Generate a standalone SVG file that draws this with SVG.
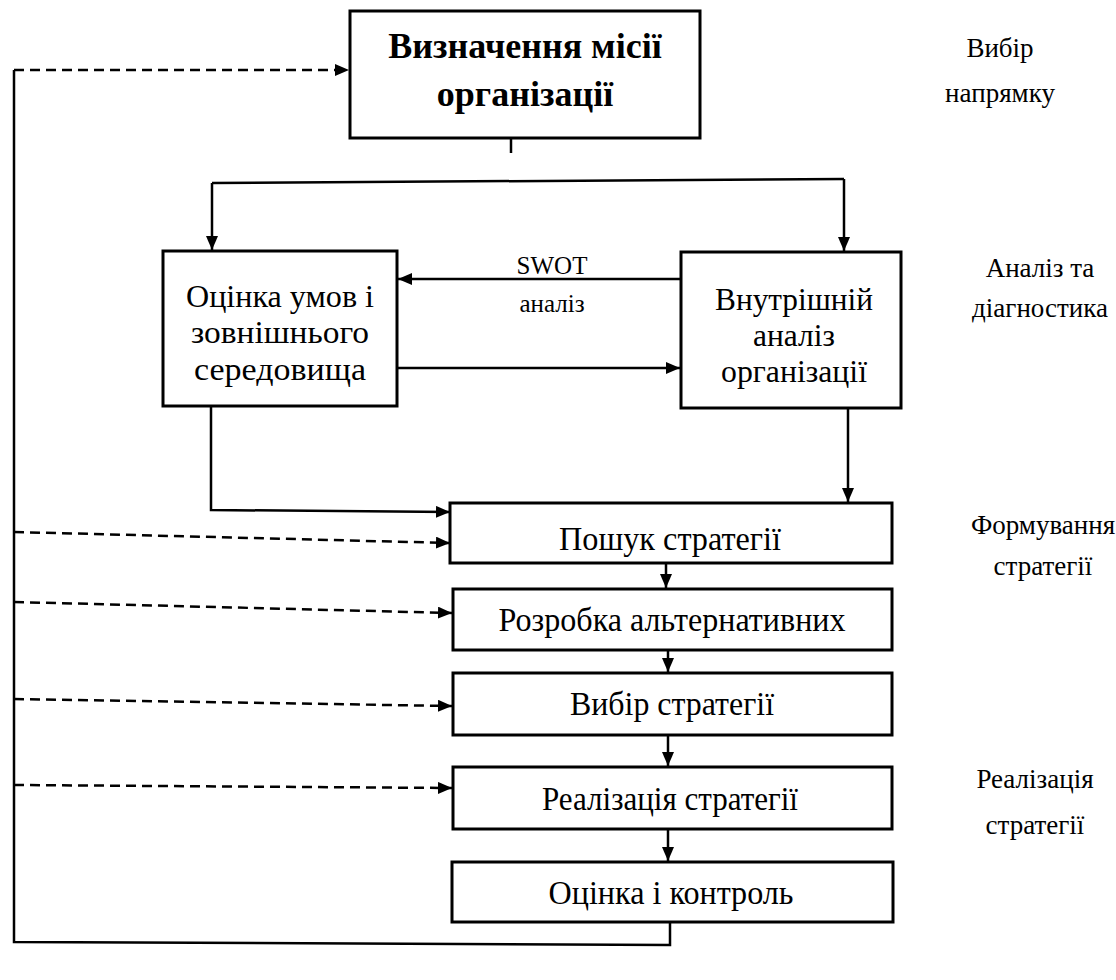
<svg xmlns="http://www.w3.org/2000/svg" width="1116" height="980" viewBox="0 0 1116 980">
<style>
.box{fill:#fff;stroke:#000;stroke-width:3}
.t{font-family:"Liberation Serif","Times New Roman",serif;font-size:34px;text-anchor:middle;fill:#000}
.m{font-size:31px}
.b{font-weight:bold;font-size:36px}
.s{font-size:25px}
.r{font-size:27px}
.ln{fill:none;stroke:#000;stroke-width:2.5}
.d{stroke-dasharray:10 6}
</style>
<defs>
<marker id="ah" viewBox="0 0 14 12" refX="14" refY="6" markerWidth="14" markerHeight="12" markerUnits="userSpaceOnUse" orient="auto">
<path d="M0,0 L14,6 L0,12 Z" fill="#000"/>
</marker>
</defs>
<g id="connectors">
<path class="ln" d="M511,138 V153"/>
<path class="ln" d="M212,183 L844,179" />
<path class="ln" d="M212,183 V250" marker-end="url(#ah)"/>
<path class="ln" d="M844,179 V251" marker-end="url(#ah)"/>
<path class="ln" d="M681,279 H398" marker-end="url(#ah)"/>
<path class="ln" d="M397,368 H680" marker-end="url(#ah)"/>
<path class="ln" d="M211,406 V510 L450,512" marker-end="url(#ah)"/>
<path class="ln" d="M848,408 V502" marker-end="url(#ah)"/>
<path class="ln" d="M666,563 V588" marker-end="url(#ah)"/>
<path class="ln" d="M668,650 V672" marker-end="url(#ah)"/>
<path class="ln" d="M668,735 V766" marker-end="url(#ah)"/>
<path class="ln" d="M668,829 V861" marker-end="url(#ah)"/>
<path class="ln" d="M670,922 V945 L14,942 V70"/>
<path class="ln d" d="M14,70 H349" marker-end="url(#ah)"/>
<path class="ln d" d="M14,532 L450,543" marker-end="url(#ah)"/>
<path class="ln d" d="M14,602 L452,613" marker-end="url(#ah)"/>
<path class="ln d" d="M14,699 L452,706" marker-end="url(#ah)"/>
<path class="ln d" d="M14,785 L452,788" marker-end="url(#ah)"/>
<text class="t s" x="552" y="274">SWOT</text>
<text class="t s" x="552" y="312">аналіз</text>
</g>
<g id="mission">
<rect class="box" x="350" y="11" width="350" height="127"/>
<text class="t b" x="525" y="58">Визначення місії</text>
<text class="t b" x="525" y="106">організації</text>
</g>
<g id="external">
<rect class="box" x="163" y="251" width="234" height="155"/>
<text class="t m" x="280" y="307" textLength="188" lengthAdjust="spacingAndGlyphs">Оцінка умов і</text>
<text class="t m" x="280" y="343" textLength="178" lengthAdjust="spacingAndGlyphs">зовнішнього</text>
<text class="t m" x="280" y="380" textLength="172" lengthAdjust="spacingAndGlyphs">середовища</text>
</g>
<g id="internal">
<rect class="box" x="681" y="252" width="220" height="156"/>
<text class="t m" x="794" y="310" textLength="158" lengthAdjust="spacingAndGlyphs">Внутрішній</text>
<text class="t m" x="794" y="346" textLength="82" lengthAdjust="spacingAndGlyphs">аналіз</text>
<text class="t m" x="794" y="382" textLength="146" lengthAdjust="spacingAndGlyphs">організації</text>
</g>
<g id="search">
<rect class="box" x="450" y="503" width="442" height="60"/>
<text class="t" x="670" y="550" textLength="222" lengthAdjust="spacingAndGlyphs">Пошук стратегії</text>
</g>
<g id="develop">
<rect class="box" x="453" y="589" width="439" height="61"/>
<text class="t" x="672" y="631" textLength="347" lengthAdjust="spacingAndGlyphs">Розробка альтернативних</text>
</g>
<g id="choose">
<rect class="box" x="453" y="673" width="439" height="62"/>
<text class="t" x="672" y="715" textLength="204" lengthAdjust="spacingAndGlyphs">Вибір стратегії</text>
</g>
<g id="implement">
<rect class="box" x="453" y="767" width="439" height="62"/>
<text class="t" x="670" y="810" textLength="256" lengthAdjust="spacingAndGlyphs">Реалізація стратегії</text>
</g>
<g id="control">
<rect class="box" x="452" y="862" width="441" height="60"/>
<text class="t" x="671" y="904" textLength="245" lengthAdjust="spacingAndGlyphs">Оцінка і контроль</text>
</g>
<g id="labels">
<text class="t r" x="1000" y="57">Вибір</text>
<text class="t r" x="1000" y="102">напрямку</text>
<text class="t r" x="1040" y="277">Аналіз та</text>
<text class="t r" x="1040" y="317">діагностика</text>
<text class="t r" x="1043" y="534">Формування</text>
<text class="t r" x="1043" y="575">стратегії</text>
<text class="t r" x="1035" y="788">Реалізація</text>
<text class="t r" x="1035" y="834">стратегії</text>
</g>
</svg>
